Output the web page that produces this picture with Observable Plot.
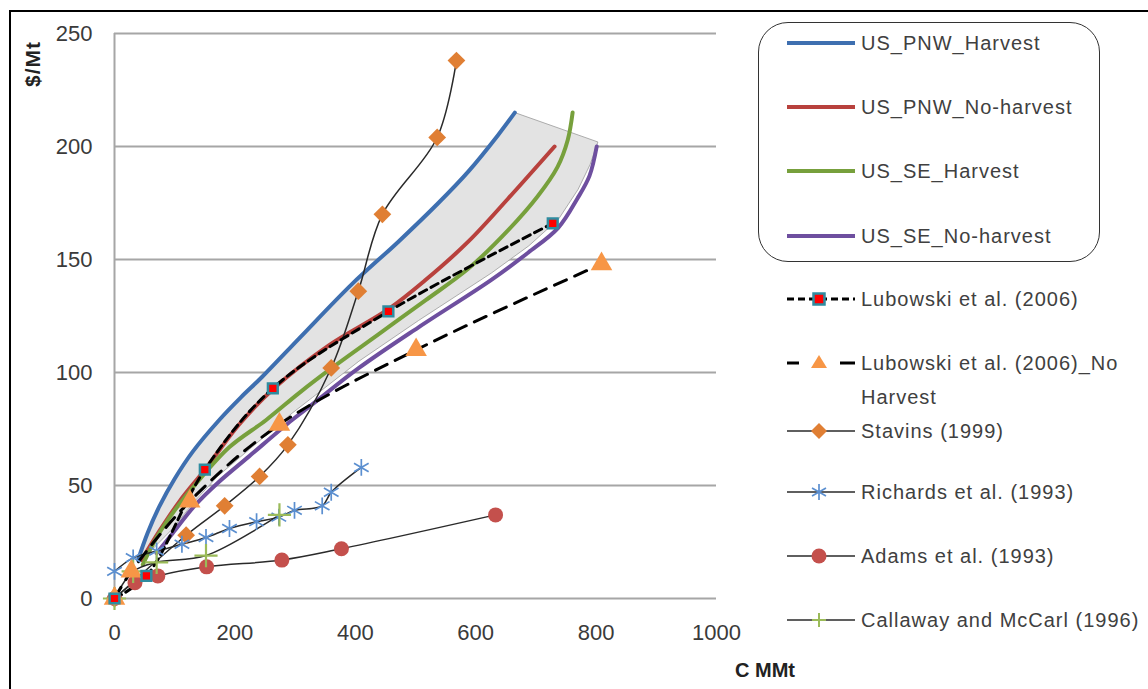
<!DOCTYPE html>
<html>
<head>
<meta charset="utf-8">
<script src="https://cdn.jsdelivr.net/npm/d3@7"></script>
<script src="https://cdn.jsdelivr.net/npm/@observablehq/plot@0.6"></script>
<style>
  body { margin: 0; background: #fff; }
  #wrap { position: relative; width: 1148px; height: 689px; overflow: hidden; font-family: "Liberation Sans", Arial, sans-serif; }
  #frame { position: absolute; left: 9px; top: 10px; width: 1300px; height: 900px; border-left: 2px solid #000; border-top: 2px solid #000; }
  #chart { position: absolute; left: 0; top: 0; }
  #legendBox { position: absolute; left: 758px; top: 22px; width: 340px; height: 238px; border: 1.5px solid #333; border-radius: 30px; }
  .lgText { position: absolute; left: 861px; font-size: 20px; letter-spacing: 1px; color: #404040; line-height: 24px; white-space: nowrap; }
  .lgSw { position: absolute; left: 785px; }
  .axTitle { position: absolute; font-weight: bold; font-size: 20px; color: #222; white-space: nowrap; }
</style>
</head>
<body>
<div id="wrap">
  <div id="frame"></div>
  <div id="chart"></div>
  <div id="legendBox"></div>
  <div class="axTitle" style="left:735px; top:659px;">C MMt</div>
  <div class="axTitle" style="left:3px; top:52px; width:60px; height:24px; line-height:24px; text-align:center; font-size:21px; letter-spacing:1px; transform: rotate(-90deg);">$/Mt</div>
</div>
<script>
// ---- axis ticks ----
const xTicks = [0, 200, 400, 600, 800, 1000];
const yTicks = [0, 50, 100, 150, 200, 250];

// ---- series (C MMt, $/Mt) ----
const pnwHarvest = [[39,17],[55,29],[75,41],[100,53],[130,65],[174,79],[210,89],[245,98],[310,116],[394,139],[472,158],[538,175],[588,189],[637,205],[665,215]];
const pnwNoHarvest = [[45,17],[75,30],[108,43],[150,57],[207,77],[265,93],[356,112],[455,128],[517,141],[588,158],[654,177],[731,200]];
const seHarvest = [[47,15],[70,27],[100,39],[136,51],[191,67],[252,79],[307,91],[361,102],[439,117],[517,132],[588,146],[654,163],[703,178],[736,191],[753,203],[761,215]];
const seNoHarvest = [[70,20],[97,29],[133,41],[171,51],[224,63],[295,79],[329,86],[406,102],[505,120],[626,141],[687,153],[737,164],[769,177],[789,187],[801,200]];
const shadeLower = [[803,202],[790,192],[770,181],[738,168],[688,156],[626,144],[505,123],[406,105],[329,89],[295,82],[224,66],[171,54],[133,43],[97,31],[60,21],[39,17]];
const lubowski = [[0,0],[53,10],[150,57],[263,93],[455,127],[728,166]];
const lubowskiNH = [[0,0],[28,12],[125,43],[274,77],[501,110],[809,148]];
const stavins = [[0,0],[119,28],[183,41],[241,54],[288,68],[360,102],[405,136],[445,170],[536,204],[568,238]];
const richards = [[0,12],[31,18],[70,21],[112,24],[152,27],[191,31],[236,34],[273,36],[299,39],[345,41],[360,47],[410,58]];
const adams = [[0,0],[34,7],[72,10],[153,14],[278,17],[377,22],[633,37]];
const callaway = [[0,0],[31,12],[70,16],[152,19],[274,37]];

const seriesNames = ["US_PNW_Harvest","US_PNW_No-harvest","US_SE_Harvest","US_SE_No-harvest","Lubowski et al. (2006)","Lubowski et al. (2006)_No Harvest","Stavins (1999)","Richards et al. (1993)","Adams et al. (1993)","Callaway and McCarl (1996)"];

const toObj = a => a.map(([x, y]) => ({x, y}));
const C = {blue:"#3e6fb0", red:"#b8413d", green:"#77a03c", purple:"#6e4f9f", teal:"#2f8ca0", sq:"#ff0000", tri:"#f79646", dia:"#e07f34", ast:"#5b8fd0", circ:"#c4504c", plus:"#9bbb59", thin:"#2a2a2a", grid:"#a6a6a6"};

const shade = toObj([...pnwHarvest, ...shadeLower]);

const chart = Plot.plot({
  width: 1148,
  height: 689,
  marginLeft: 114,
  marginRight: 432,
  marginTop: 33,
  marginBottom: 91,
  style: {fontFamily: '"Liberation Sans", Arial, sans-serif', background: "transparent", color: "#3a3a3a"},
  x: {domain: [0, 1000], label: null},
  y: {domain: [0, 250], label: null},
  marks: [
    Plot.ruleY(yTicks, {stroke: C.grid, strokeWidth: 2}),
    Plot.ruleX([0], {stroke: C.grid, strokeWidth: 2}),
    Plot.axisY({ticks: yTicks, tickSize: 0, tickPadding: 22, fontSize: 22, tickFormat: d => String(d)}),
    Plot.axisX({ticks: xTicks, tickSize: 0, tickPadding: 26, fontSize: 22, tickFormat: d => String(d)}),
    Plot.line(shade, {x: "x", y: "y", fill: "#e3e3e3", stroke: "#9a9a9a", strokeWidth: 0.8, curve: "linear"}),
    Plot.line(toObj(pnwHarvest), {x: "x", y: "y", stroke: C.blue, strokeWidth: 4, curve: "catmull-rom"}),
    Plot.line(toObj(pnwNoHarvest), {x: "x", y: "y", stroke: C.red, strokeWidth: 4, curve: "catmull-rom"}),
    Plot.line(toObj(seHarvest), {x: "x", y: "y", stroke: C.green, strokeWidth: 4, curve: "catmull-rom"}),
    Plot.line(toObj(seNoHarvest), {x: "x", y: "y", stroke: C.purple, strokeWidth: 4, curve: "catmull-rom"}),
    Plot.line(toObj(stavins), {x: "x", y: "y", stroke: C.thin, strokeWidth: 1.5, curve: "catmull-rom"}),
    Plot.line(toObj(richards), {x: "x", y: "y", stroke: C.thin, strokeWidth: 1.5, curve: "catmull-rom"}),
    Plot.line(toObj(adams), {x: "x", y: "y", stroke: C.thin, strokeWidth: 1.5, curve: "catmull-rom"}),
    Plot.line(toObj(callaway), {x: "x", y: "y", stroke: C.thin, strokeWidth: 1.5, curve: "catmull-rom"}),
    Plot.line(toObj(lubowski), {x: "x", y: "y", stroke: "#000", strokeWidth: 3, strokeDasharray: "8,5", curve: "catmull-rom"}),
    Plot.line(toObj(lubowskiNH), {x: "x", y: "y", stroke: "#000", strokeWidth: 3, strokeDasharray: "13,9", curve: "catmull-rom"}),
    Plot.dot(toObj(stavins), {x: "x", y: "y", symbol: "diamond2", r: 8, fill: C.dia, stroke: "none"}),
    Plot.dot(toObj(richards), {x: "x", y: "y", symbol: "asterisk", r: 8, stroke: C.ast, strokeWidth: 1.7}),
    Plot.dot(toObj(adams), {x: "x", y: "y", symbol: "circle", r: 7.5, fill: C.circ, stroke: "none"}),
    Plot.dot(toObj(callaway), {x: "x", y: "y", symbol: "plus", r: 7.5, stroke: C.plus, strokeWidth: 2.2}),
    Plot.dot(toObj(lubowskiNH), {x: "x", y: "y", symbol: "triangle", r: 8, fill: C.tri, stroke: "none"}),
    Plot.dot(toObj(lubowski), {x: "x", y: "y", symbol: "square", r: 5.5, fill: C.sq, stroke: C.teal, strokeWidth: 2.5})
  ]
});
document.getElementById("chart").appendChild(chart);

// ---- legend ----
const legendKinds = ["curve","curve","curve","curve","lub","lubNH","dia","ast","circ","plus"];
const legendColors = [C.blue, C.red, C.green, C.purple];
const legendRowY = [43,107,171,236,299,363,431,492,556,620];
const wrap = document.getElementById("wrap");
seriesNames.forEach((name, i) => {
  const y = legendRowY[i];
  const kind = legendKinds[i];
  let inner = "";
  if (kind === "curve") {
    inner = `<line x1="2" x2="70" y1="12" y2="12" stroke="${legendColors[i]}" stroke-width="4"/>`;
  } else if (kind === "lub") {
    inner = `<line x1="2" x2="70" y1="12" y2="12" stroke="#000" stroke-width="3" stroke-dasharray="7,4"/>` +
            `<rect x="28.5" y="6.5" width="11" height="11" fill="${C.sq}" stroke="${C.teal}" stroke-width="2.5"/>`;
  } else if (kind === "lubNH") {
    inner = `<line x1="2" x2="14" y1="12" y2="12" stroke="#000" stroke-width="3"/>` +
            `<line x1="55" x2="70" y1="12" y2="12" stroke="#000" stroke-width="3"/>` +
            `<path d="M34,4 L42,17 L26,17 Z" fill="${C.tri}"/>`;
  } else {
    inner = `<line x1="2" x2="70" y1="12" y2="12" stroke="${C.thin}" stroke-width="1.5"/>`;
    if (kind === "dia") inner += `<path d="M34,4 L42,12 L34,20 L26,12 Z" fill="${C.dia}"/>`;
    if (kind === "ast") inner += `<path d="M34,4 V20 M27,8 L41,16 M27,16 L41,8" stroke="${C.ast}" stroke-width="1.7" fill="none"/>`;
    if (kind === "circ") inner += `<circle cx="34" cy="12" r="7.5" fill="${C.circ}"/>`;
    if (kind === "plus") inner += `<path d="M34,5 V19 M27,12 H41" stroke="${C.plus}" stroke-width="2"/>`;
  }
  const sw = document.createElement("div");
  sw.className = "lgSw";
  sw.style.top = (y - 12) + "px";
  sw.innerHTML = `<svg width="72" height="24">${inner}</svg>`;
  wrap.appendChild(sw);
  const t = document.createElement("div");
  t.className = "lgText";
  t.style.top = (y - 12) + "px";
  if (kind === "lubNH") {
    const parts = name.split(" Harvest");
    t.style.lineHeight = "34px";
    t.style.top = (y - 17) + "px";
    t.innerHTML = parts[0] + "<br>Harvest";
  } else {
    t.textContent = name;
  }
  wrap.appendChild(t);
});
</script>
</body>
</html>
